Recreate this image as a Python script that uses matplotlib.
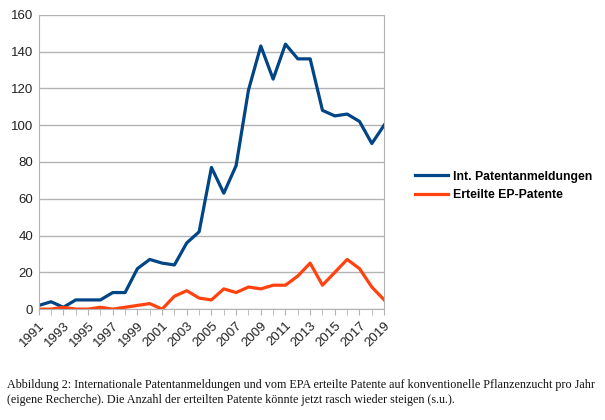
import matplotlib.pyplot as plt

years = list(range(1991, 2020))
anmeldungen = [2, 4, 1, 5, 5, 5, 9, 9, 22, 27, 25, 24, 36, 42, 77, 63, 78, 119,
               143, 125, 144, 136, 136, 108, 105, 106, 102, 90, 100]
erteilt = [0, 0, 1, 0, 0, 1, 0, 1, 2, 3, 0, 7, 10, 6, 5, 11, 9, 12, 11, 13, 13,
           18, 25, 13, 20, 27, 22, 12, 5]
tick_years = years[::2]

plt.rcParams['font.family'] = ['Liberation Sans', 'DejaVu Sans']

fig = plt.figure(figsize=(6.05, 4.2), dpi=100)
ax = fig.add_axes([0.064, 0.264, 0.571, 0.701])

ax.plot(years, anmeldungen, color='#004586', lw=2.3, label='Int. Patentanmeldungen',
        solid_joinstyle='round')
ax.plot(years, erteilt, color='#ff420e', lw=2.3, label='Erteilte EP-Patente',
        solid_joinstyle='round')

ax.set_xlim(1991, 2019)
ax.set_ylim(0, 160)
ax.set_yticks(range(0, 161, 20))
ax.set_xticks(years, minor=True)
ax.set_xticks(tick_years)
ax.set_xticklabels([str(y) for y in tick_years], rotation=45, ha='right',
                   rotation_mode='anchor')
ax.tick_params(axis='x', which='both', length=4, color='#b3b3b3', labelsize=9.5,
               labelcolor='#222222')
ax.tick_params(axis='y', length=0, labelsize=9.5, labelcolor='#222222', pad=4)
ax.grid(axis='y', color='#b3b3b3', lw=1)
ax.set_axisbelow(True)
for side in ['left', 'right', 'bottom']:
    ax.spines[side].set_color('#b3b3b3')
ax.spines['top'].set_visible(False)

fig.legend(loc='center left', bbox_to_anchor=(0.667, 0.557), frameon=False,
           handlelength=2.7, handletextpad=0.45, labelspacing=0.55,
           prop={'family': ['Liberation Sans'], 'weight': 'bold', 'size': 8.8})

caption = ("Abbildung 2: Internationale Patentanmeldungen und vom EPA erteilte Patente "
           "auf konventionelle Pflanzenzucht pro Jahr\n(eigene Recherche). Die Anzahl der "
           "erteilten Patente könnte jetzt rasch wieder steigen (s.u.).")
fig.text(0.012, 0.066, caption, family=['Liberation Serif', 'DejaVu Serif'],
         fontsize=8.7, va='center', ha='left', linespacing=1.3, color='#111111')

fig.savefig('out.png', dpi=100)
